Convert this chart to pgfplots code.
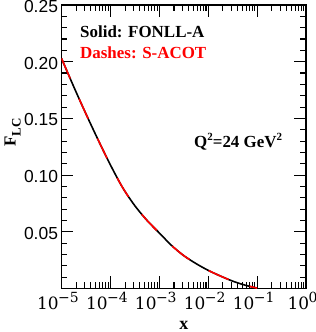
\documentclass[border=0pt]{standalone}
\usepackage{fontspec}
\usepackage{pgfplots}
\pgfplotsset{compat=1.18}
\setmainfont{Liberation Serif}
\newfontfamily\sansf{Liberation Sans}
\newfontfamily\dvs{DejaVu Serif}
\newcommand{\xtl}[1]{{\dvs\fontsize{17}{17}\selectfont 10\kern-0.5pt\raisebox{0.42em}{\fontsize{14}{14}\selectfont #1}}}
\begin{document}
\begin{tikzpicture}
\begin{axis}[
  xmode=log, xmin=1e-5, xmax=1, ymin=0, ymax=0.25,
  width=244.5bp, height=283.5bp, scale only axis,
  axis line style={line width=1.6bp},
  tick style={line width=1.1bp, black},
  major tick length=12bp, minor tick length=6bp,
  tick align=inside,
  xtick={1e-5,1e-4,1e-3,1e-2,1e-1,1},
  minor xtick={2e-5,3e-5,4e-5,5e-5,6e-5,7e-5,8e-5,9e-5,
               2e-4,3e-4,4e-4,5e-4,6e-4,7e-4,8e-4,9e-4,
               2e-3,3e-3,4e-3,5e-3,6e-3,7e-3,8e-3,9e-3,
               2e-2,3e-2,4e-2,5e-2,6e-2,7e-2,8e-2,9e-2,
               0.2,0.3,0.4,0.5,0.6,0.7,0.8,0.9},
  xticklabels={\xtl{−5},\xtl{−4},\xtl{−3},\xtl{−2},\xtl{−1},\xtl{0}},
  xticklabel style={xshift=-3.5bp},
  ytick={0,0.05,0.1,0.15,0.2,0.25},
  yticklabels={,0.05,0.10,0.15,0.20,0.25},
  minor ytick={0.01,0.02,0.03,0.04,0.06,0.07,0.08,0.09,0.11,0.12,0.13,0.14,0.16,0.17,0.18,0.19,0.21,0.22,0.23,0.24},
  yticklabel style={font=\sansf\fontsize{17.5}{17.5}\selectfont, yshift=-1.5bp},
  xlabel={\bfseries x},
  xlabel style={font=\fontsize{18}{18}\selectfont, at={(axis description cs:0.5,0)}, anchor=base, yshift=-40.5bp},
  ylabel={\bfseries F\raisebox{-0.3em}{\fontsize{13}{13}\selectfont LC}},
  ylabel style={font=\fontsize{17}{17}\selectfont, at={(axis description cs:-0.2,0.55)}, anchor=center},
  clip=true,
]
\addplot[black, line width=1.6bp, smooth] coordinates {
(1e-5,0.203) (1.778e-5,0.178) (3.162e-5,0.154) (5.623e-5,0.131) (1e-4,0.109)
(1.778e-4,0.089) (3.162e-4,0.073) (5.623e-4,0.060) (1e-3,0.049)
(1.778e-3,0.038) (3.162e-3,0.029) (5.623e-3,0.022) (1e-2,0.016)
(1.778e-2,0.011) (3.162e-2,0.0065) (5.623e-2,0.0030) (1e-1,0.0003)
};
\addplot[red, line width=1.6bp, smooth, dash pattern=on 22bp off 22bp] coordinates {
(1e-5,0.203) (1.778e-5,0.178) (3.162e-5,0.154) (5.623e-5,0.131) (1e-4,0.109)
(1.778e-4,0.089) (3.162e-4,0.073) (5.623e-4,0.060) (1e-3,0.049)
(1.778e-3,0.038) (3.162e-3,0.029) (5.623e-3,0.022) (1e-2,0.016)
(1.778e-2,0.011) (3.162e-2,0.0065) (5.623e-2,0.0030) (1e-1,0.0003)
};
\node[anchor=base west, inner sep=0pt, font=\bfseries\fontsize{17}{17}\selectfont] at (rel axis cs:0.0757,0.887) {Solid: FONLL-A};
\node[anchor=base west, inner sep=0pt, text=red, font=\bfseries\fontsize{17}{17}\selectfont] at (rel axis cs:0.0757,0.813) {Dashes: S-ACOT};
\node[anchor=base west, inner sep=0pt, font=\bfseries\fontsize{17}{17}\selectfont] at (rel axis cs:0.542,0.496) {Q\raisebox{0.45em}{\fontsize{11}{11}\selectfont 2}=24 GeV\raisebox{0.45em}{\fontsize{11}{11}\selectfont 2}};
\end{axis}
\pgfresetboundingbox
\path[use as bounding box] ([xshift=-61.5bp,yshift=-43.5bp]current axis.south west) rectangle ++(316bp,332bp);
\end{tikzpicture}
\end{document}
